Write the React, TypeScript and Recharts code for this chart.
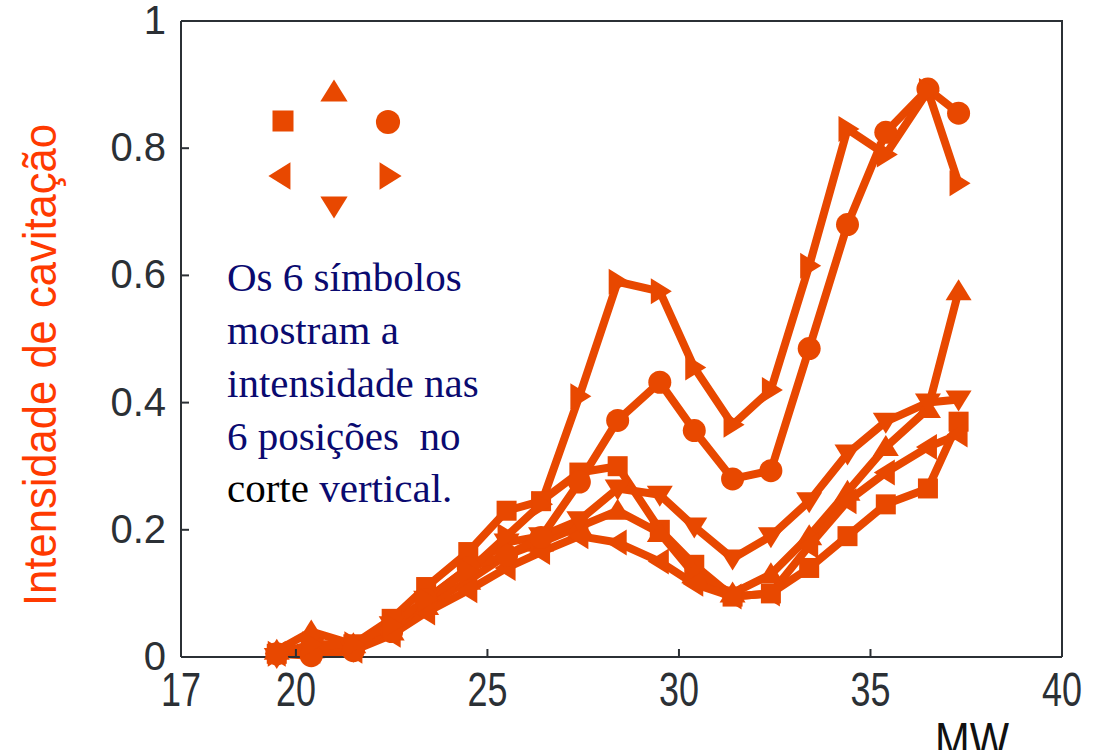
import React from "react";
import { Line, LineChart, XAxis, YAxis } from "recharts";

const ORANGE = "#E84800";
const AXIS = "#2b3035";

const mwValues = [19.5, 20.4, 21.5, 22.5, 23.4, 24.5, 25.5, 26.4, 27.4, 28.4, 29.5, 30.4, 31.4, 32.4, 33.4, 34.4, 35.4, 36.5, 37.3];

const squareSeries = [0.005, 0.01, 0.02, 0.06, 0.11, 0.165, 0.23, 0.245, 0.29, 0.3, 0.2, 0.145, 0.095, 0.1, 0.14, 0.19, 0.24, 0.265, 0.37];
const upSeries = [0.01, 0.04, 0.02, 0.04, 0.08, 0.12, 0.16, 0.18, 0.205, 0.23, 0.195, 0.13, 0.1, 0.13, 0.19, 0.26, 0.33, 0.39, 0.575];
const circleSeries = [0.005, 0.002, 0.01, 0.04, 0.09, 0.14, 0.16, 0.188, 0.275, 0.372, 0.432, 0.356, 0.28, 0.293, 0.485, 0.68, 0.825, 0.893, 0.855];
const leftSeries = [0.005, 0.01, 0.01, 0.035, 0.07, 0.105, 0.14, 0.165, 0.19, 0.18, 0.15, 0.115, 0.095, 0.1, 0.175, 0.245, 0.29, 0.33, 0.35];
const rightSeries = [0.005, 0.02, 0.02, 0.05, 0.09, 0.135, 0.19, 0.24, 0.41, 0.59, 0.575, 0.455, 0.365, 0.42, 0.615, 0.83, 0.79, 0.89, 0.745];
const downSeries = [0.0, 0.015, 0.01, 0.05, 0.09, 0.14, 0.18, 0.19, 0.215, 0.265, 0.255, 0.205, 0.155, 0.19, 0.245, 0.32, 0.37, 0.4, 0.405];

const xTicks = [17, 20, 25, 30, 35, 40];
const yTicks = [0, 0.2, 0.4, 0.6, 0.8, 1];

const noteLines = ["Os 6 símbolos", "mostram a", "intensidade nas", "6 posições  no"];

const data = mwValues.map((mw, i) => ({
  mw,
  square: squareSeries[i],
  up: upSeries[i],
  circle: circleSeries[i],
  left: leftSeries[i],
  right: rightSeries[i],
  down: downSeries[i],
}));

type Shape = "square" | "up" | "circle" | "left" | "right" | "down";

function Marker({ shape, cx, cy, s = 1 }: { shape: Shape; cx: number; cy: number; s?: number }) {
  if (shape === "circle") return <circle cx={cx} cy={cy} r={11.5 * s} fill={ORANGE} />;
  if (shape === "square")
    return <rect x={cx - 10 * s} y={cy - 10 * s} width={20 * s} height={20 * s} fill={ORANGE} />;
  const a = 12 * s;
  const b = 9 * s;
  const w = 13 * s;
  let d = "";
  if (shape === "up") d = `M${cx},${cy - a} L${cx + w},${cy + b} L${cx - w},${cy + b} Z`;
  if (shape === "down") d = `M${cx},${cy + a} L${cx + w},${cy - b} L${cx - w},${cy - b} Z`;
  if (shape === "left") d = `M${cx - a},${cy} L${cx + b},${cy - w} L${cx + b},${cy + w} Z`;
  if (shape === "right") d = `M${cx + a},${cy} L${cx - b},${cy - w} L${cx - b},${cy + w} Z`;
  return <path d={d} fill={ORANGE} />;
}

const dotFor = (shape: Shape) => (props: any) => (
  <Marker key={`${shape}-${props.index}`} shape={shape} cx={props.cx} cy={props.cy} />
);

function BottomTick(props: any) {
  const { x, y, payload } = props;
  return (
    <g>
      <line x1={x} y1={y} x2={x} y2={y - 8} stroke={AXIS} strokeWidth={2} />
      <text
        x={x}
        y={y + 49}
        textAnchor="middle"
        fill={AXIS}
        fontSize={49}
        textLength={40}
        lengthAdjust="spacingAndGlyphs"
        fontFamily="'Liberation Sans', Arial, sans-serif"
      >
        {payload.value}
      </text>
    </g>
  );
}

function LeftTick(props: any) {
  const { x, y, payload } = props;
  const label = payload.value === 0 ? "0" : payload.value === 1 ? "1" : payload.value.toFixed(1);
  return (
    <g>
      <line x1={x} y1={y} x2={x + 8} y2={y} stroke={AXIS} strokeWidth={2} />
      <text
        x={x - 15}
        y={y + 13}
        textAnchor="end"
        fill={AXIS}
        fontSize={40}
        fontFamily="'Liberation Sans', Arial, sans-serif"
      >
        {label}
      </text>
    </g>
  );
}

const series: { key: Shape }[] = [
  { key: "square" },
  { key: "up" },
  { key: "left" },
  { key: "down" },
  { key: "circle" },
  { key: "right" },
];

const legendPos: { shape: Shape; x: number; y: number }[] = [
  { shape: "square", x: 283, y: 121 },
  { shape: "up", x: 334, y: 92 },
  { shape: "circle", x: 388, y: 122 },
  { shape: "left", x: 281, y: 176 },
  { shape: "right", x: 389, y: 176 },
  { shape: "down", x: 334, y: 206 },
];

export default function App() {
  return (
    <div style={{ position: "absolute", left: 0, top: 0, width: 1094, height: 750, background: "#fff", overflow: "hidden" }}>
      <LineChart width={1094} height={750} data={data} margin={{ top: 21, right: 32, bottom: 33, left: 81 }}>
        <XAxis
          dataKey="mw"
          type="number"
          domain={[17, 40]}
          ticks={xTicks}
          height={60}
          tickSize={0}
          tickMargin={0}
          tickLine={false}
          axisLine={{ stroke: AXIS, strokeWidth: 2 }}
          tick={<BottomTick />}
          interval={0}
        />
        <YAxis
          type="number"
          domain={[0, 1]}
          ticks={yTicks}
          width={100}
          tickSize={0}
          tickMargin={0}
          tickLine={false}
          axisLine={{ stroke: AXIS, strokeWidth: 2 }}
          tick={<LeftTick />}
          interval={0}
        />
        {series.map((s) => (
          <Line
            key={s.key}
            dataKey={s.key}
            type="linear"
            stroke={ORANGE}
            strokeWidth={8}
            strokeLinejoin="round"
            dot={dotFor(s.key)}
            activeDot={false}
            isAnimationActive={false}
          />
        ))}
      </LineChart>

      <svg width={1094} height={750} style={{ position: "absolute", left: 0, top: 0, pointerEvents: "none" }}>
        {/* box around the plot area (top and right edges) */}
        <polyline points="181,21 1062,21 1062,657" fill="none" stroke={AXIS} strokeWidth={2} />
        {legendPos.map((p) => (
          <Marker key={p.shape} shape={p.shape} cx={p.x} cy={p.y} s={1.05} />
        ))}
        <text
          transform="translate(56,365) rotate(-90)"
          textAnchor="middle"
          fill="#FF3A00"
          fontSize={46}
          textLength={482}
          lengthAdjust="spacingAndGlyphs"
          fontFamily="'Liberation Sans', Arial, sans-serif"
        >
          Intensidade de cavitação
        </text>
        <text
          x={972}
          y={756}
          textAnchor="middle"
          fill="#111"
          fontSize={48}
          textLength={74}
          lengthAdjust="spacingAndGlyphs"
          fontFamily="'Liberation Sans', Arial, sans-serif"
        >
          MW
        </text>
        {noteLines.map((t, i) => (
          <text
            key={t}
            x={227}
            y={291 + i * 53}
            fill="#0A0A70"
            fontSize={41}
            fontFamily="'Liberation Serif', 'Times New Roman', serif"
            style={{ whiteSpace: "pre" }}
          >
            {t}
          </text>
        ))}
        <text x={227} y={502} fontSize={41} fontFamily="'Liberation Serif', 'Times New Roman', serif">
          <tspan fill="#000">corte </tspan>
          <tspan fill="#0A0A70">vertical.</tspan>
        </text>
      </svg>
    </div>
  );
}
